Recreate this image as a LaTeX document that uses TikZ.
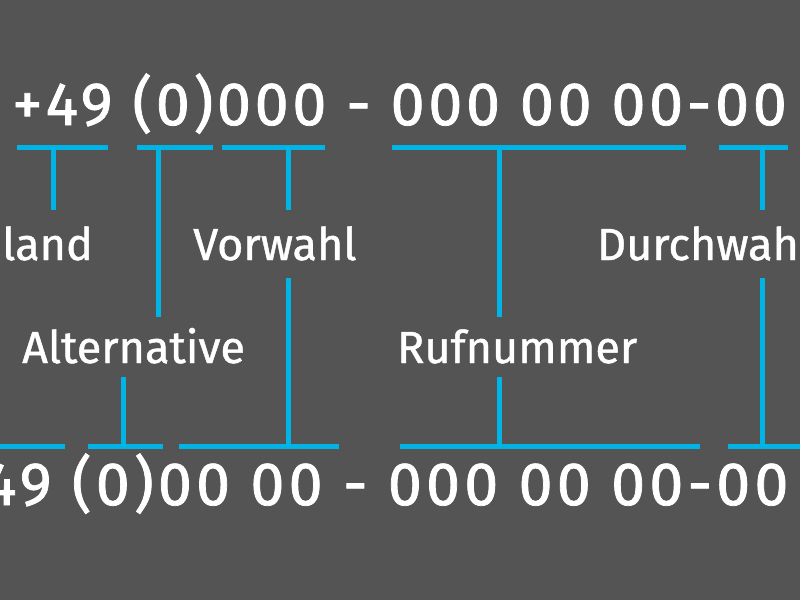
\documentclass[tikz,border=0pt]{standalone}
\usepackage{fontspec}
\setmainfont{Fira Sans}
\newfontfamily\numfont{Fira Sans}[LetterSpace=6,FakeBold=1.2]
\newfontfamily\numbotfont{Fira Sans}[LetterSpace=6.8,FakeBold=1.2]
\newfontfamily\lblfont{Fira Sans}[FakeBold=1]
\usepackage{xcolor}
\usepackage{tikz}

\definecolor{slate}{HTML}{545454}
\definecolor{skyline}{HTML}{00B5E6}

\tikzset{
  bar/.style={skyline,line width=5pt},
  numtext/.style={white,inner sep=0pt,anchor=base west,font=\numfont\fontsize{61}{61}\selectfont},
  numbottext/.style={numtext,font=\numbotfont\fontsize{61}{61}\selectfont},
  lbltext/.style={white,inner sep=0pt,anchor=base west,font=\lblfont\fontsize{45}{45}\selectfont}
}

\begin{document}
\begin{tikzpicture}[x=1pt,y=-1pt]
\fill[slate] (0,0) rectangle (800,600);
\clip (0,0) rectangle (800,600);
% numbers
\node[numtext] (numtop) at (12,125) {+49 (0)000 - 000 00 00-00};
\node[numbottext] (numbot) at (-50,505) {+49 (0)00 00 - 000 00 00-00};
% labels
\node[lbltext] (land) at (2,260) {land};
\node[lbltext] (vorwahl) at (193,260) {Vorwahl};
\node[lbltext] (durchwahl) at (597,260) {Durchwahl};
\node[lbltext] (alternative) at (22,363) {Alternative};
\node[lbltext] (rufnummer) at (397,363) {Rufnummer};
% top bars
\draw[bar] (17,147) -- (108,147);
\draw[bar] (137,147) -- (213,147);
\draw[bar] (222,147) -- (325,147);
\draw[bar] (392,147) -- (686,147);
\draw[bar] (719,147) -- (788,147);
% bottom bars
\draw[bar] (0,446) -- (65,446);
\draw[bar] (88,446) -- (163,446);
\draw[bar] (179,446) -- (339,446);
\draw[bar] (400,446) -- (700,446);
\draw[bar] (728,446) -- (800,446);
% stems
\coordinate (landtop) at (53,147);
\coordinate (alttop) at (158,147);
\coordinate (vortop) at (288,147);
\coordinate (ruftop) at (499,147);
\coordinate (durtop) at (762,147);
\coordinate (altbot) at (123,446);
\coordinate (vorbot) at (288,446);
\coordinate (rufbot) at (499,446);
\coordinate (durbot) at (762,446);
\draw[bar] (landtop) -- ++(0,63);
\draw[bar] (alttop) -- ++(0,170);
\draw[bar] (vortop) -- ++(0,63);
\draw[bar] (ruftop) -- ++(0,170);
\draw[bar] (durtop) -- ++(0,63);
\draw[bar] (altbot) -- ++(0,-69);
\draw[bar] (vorbot) -- ++(0,-168);
\draw[bar] (rufbot) -- ++(0,-69);
\draw[bar] (durbot) -- ++(0,-168);
\end{tikzpicture}
\end{document}
